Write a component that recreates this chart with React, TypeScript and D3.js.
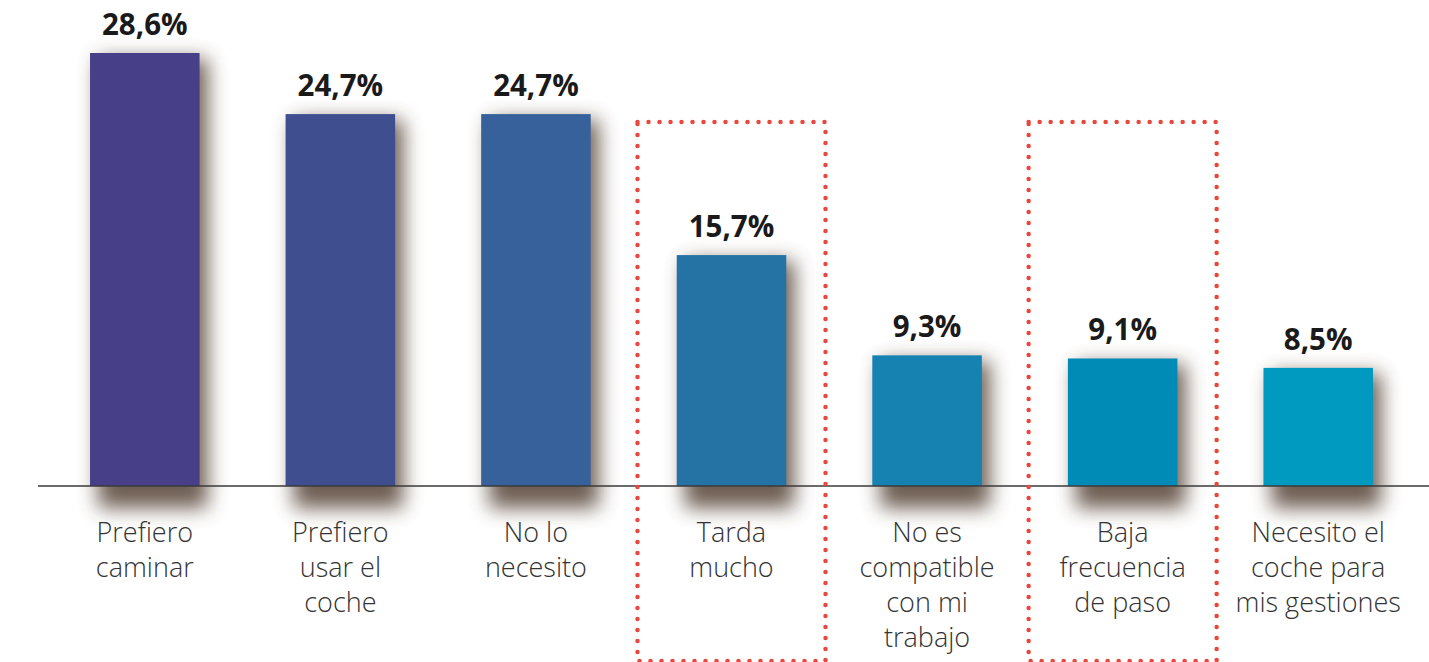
import React, { useRef, useEffect } from 'react';
import * as d3 from 'd3';

const categories = [
  ['Prefiero', 'caminar'],
  ['Prefiero', 'usar el', 'coche'],
  ['No lo', 'necesito'],
  ['Tarda', 'mucho'],
  ['No es', 'compatible', 'con mi', 'trabajo'],
  ['Baja', 'frecuencia', 'de paso'],
  ['Necesito el', 'coche para', 'mis gestiones'],
];
const values = [28.6, 24.7, 24.7, 15.7, 9.3, 9.1, 8.5];
const valueLabels = ['28,6%', '24,7%', '24,7%', '15,7%', '9,3%', '9,1%', '8,5%'];
const highlighted = [3, 5];

const colors = ['#483f89', '#3f4e8f', '#36619b', '#2572a5', '#1582b2', '#008bb6', '#0099bf'];

const W = 1429;
const H = 662;
const baseY = 486;

const App = () => {
  const svgRef = useRef<SVGSVGElement>(null);

  const draw = (node: SVGSVGElement) => {
    const svg = d3.select(node);
    svg.selectAll('*').remove();

    const idx = values.map((_, i) => i);
    const x = d3.scaleBand<number>()
      .domain(idx)
      .range([47, 1416])
      .paddingInner(0.44)
      .paddingOuter(0.22);
    const y = d3.scaleLinear()
      .domain([0.96, 28.6])
      .range([baseY, 53]);

    const defs = svg.append('defs');
    const f = defs.append('filter')
      .attr('id', 'shadow')
      .attr('x', '-50%').attr('y', '-50%')
      .attr('width', '200%').attr('height', '200%');
    f.append('feGaussianBlur').attr('stdDeviation', 10);

    // shadows
    svg.append('g')
      .selectAll('rect')
      .data(idx)
      .join('rect')
      .attr('x', (i) => x(i)! + 8)
      .attr('y', (i) => y(values[i]) + 6)
      .attr('width', x.bandwidth())
      .attr('height', (i) => baseY - y(values[i]) + 16)
      .attr('fill', '#4a3428')
      .attr('opacity', 0.8)
      .attr('filter', 'url(#shadow)');

    // bars
    svg.append('g')
      .selectAll('rect')
      .data(idx)
      .join('rect')
      .attr('x', (i) => x(i)!)
      .attr('y', (i) => y(values[i]))
      .attr('width', x.bandwidth())
      .attr('height', (i) => baseY - y(values[i]))
      .attr('fill', (i) => colors[i]);

    // baseline
    svg.append('line')
      .attr('x1', 38).attr('x2', W)
      .attr('y1', baseY).attr('y2', baseY)
      .attr('stroke', '#3a3a3a')
      .attr('stroke-width', 1.5);

    // value labels
    svg.append('g')
      .selectAll('text')
      .data(idx)
      .join('text')
      .attr('x', (i) => x(i)! + x.bandwidth() / 2)
      .attr('y', (i) => y(values[i]) - 18)
      .attr('text-anchor', 'middle')
      .attr('font-family', '"Open Sans", sans-serif')
      .attr('font-weight', 700)
      .attr('font-size', 29.5)
      .attr('fill', '#1a1a1a')
      .text((i) => valueLabels[i]);

    // category labels
    const cat = svg.append('g')
      .selectAll('text')
      .data(idx)
      .join('text')
      .attr('x', (i) => x(i)! + x.bandwidth() / 2)
      .attr('y', 542)
      .attr('text-anchor', 'middle')
      .attr('font-family', '"Open Sans", sans-serif')
      .attr('font-weight', 300)
      .attr('font-size', 27)
      .attr('fill', '#333');
    cat.selectAll('tspan')
      .data((i) => categories[i].map((t) => ({ t, c: x(i)! + x.bandwidth() / 2 })))
      .join('tspan')
      .attr('x', (d) => d.c)
      .attr('dy', (_, j) => (j === 0 ? 0 : 35))
      .text((d) => d.t);

    // dotted highlight boxes
    svg.append('g')
      .selectAll('rect')
      .data(highlighted)
      .join('rect')
      .attr('x', (i) => x(i)! + x.bandwidth() / 2 - 94)
      .attr('y', 122)
      .attr('width', 188)
      .attr('height', 539)
      .attr('fill', 'none')
      .attr('stroke', '#e8473c')
      .attr('stroke-width', 4.5)
      .attr('stroke-linecap', 'round')
      .attr('stroke-dasharray', '0 11');
  };

  useEffect(() => {
    if (svgRef.current) draw(svgRef.current);
  }, []);

  return (
    <svg
      ref={svgRef}
      width={W}
      height={H}
      style={{ position: 'absolute', left: 0, top: 0, background: '#fff' }}
    />
  );
};

export default App;
